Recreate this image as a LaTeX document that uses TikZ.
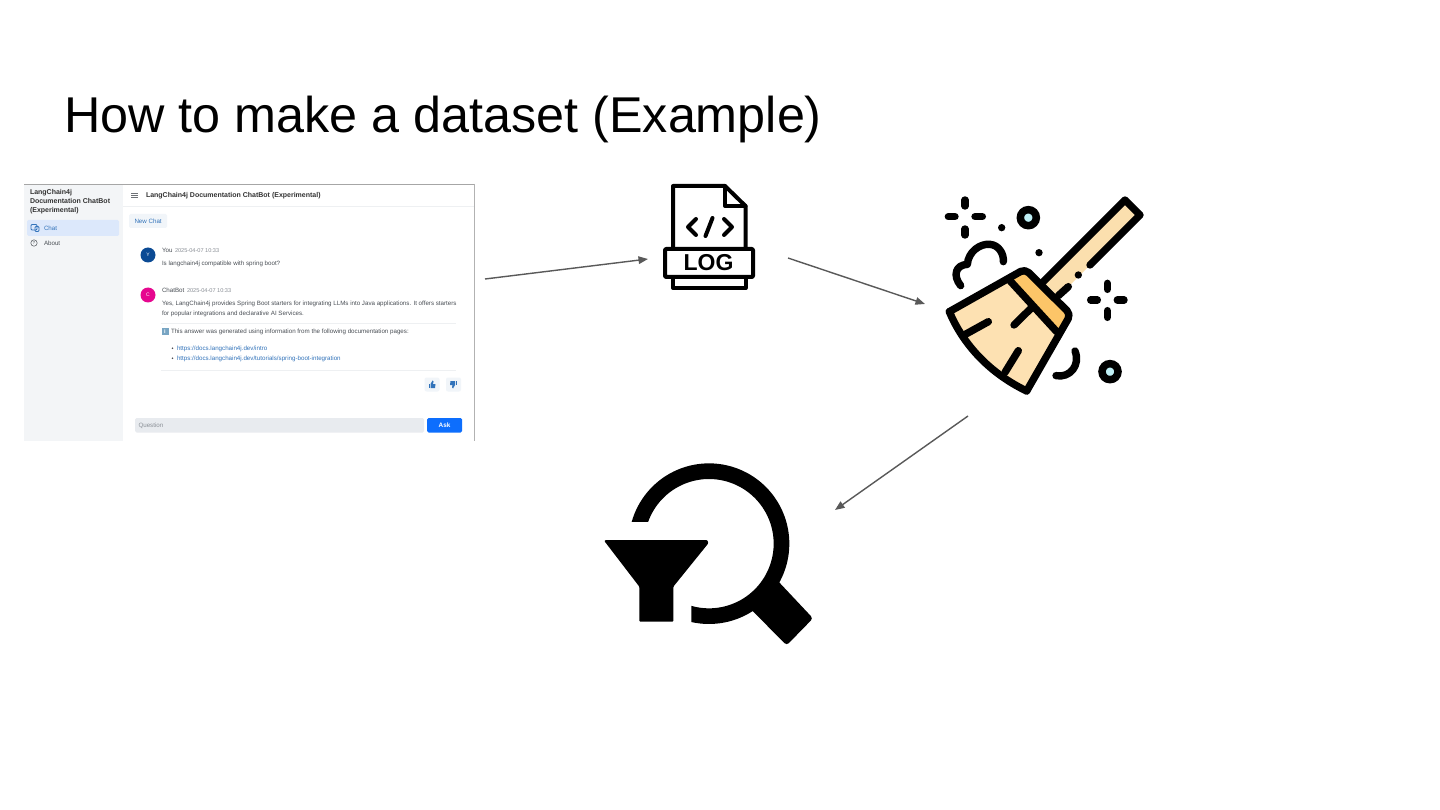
\documentclass[tikz,border=0pt]{standalone}
\usepackage{fontspec}
\setmainfont{Liberation Sans}
\usetikzlibrary{arrows.meta}
\definecolor{arrowgray}{HTML}{595959}
\definecolor{side}{HTML}{F3F5F7}
\definecolor{active}{HTML}{DCE8FB}
\definecolor{linkblue}{HTML}{3273BA}
\definecolor{ink}{HTML}{4A4F55}
\definecolor{faint}{HTML}{8A8F96}
\definecolor{hr}{HTML}{EEF0F2}
\definecolor{btn}{HTML}{F1F5F9}
\definecolor{wood}{HTML}{FBDFAE}
\definecolor{bristle}{HTML}{FDE1B2}
\definecolor{band}{HTML}{FCC568}
\definecolor{dust}{HTML}{BFEFF5}
\definecolor{infoblue}{HTML}{78A5C3}
\definecolor{avy}{HTML}{0B4A94}
\definecolor{avc}{HTML}{E6078F}
\definecolor{inputbg}{HTML}{E8EBEF}
\definecolor{askblue}{HTML}{0D6EFD}
\tikzset{
  x=1pt,y=-1pt,
  flow/.style={draw=arrowgray,line width=1.4pt,-{Triangle[length=9.5pt,width=7.5pt]}},
  ui/.style={anchor=base west,inner sep=0pt,outer sep=0pt,text=ink,font=\fontsize{6.2}{8}\selectfont},
  uibold/.style={ui,text=black!80,font=\fontsize{7}{8}\bfseries\selectfont},
  uilink/.style={ui,text=linkblue},
  uitime/.style={ui,text=faint,font=\fontsize{5.6}{7}\selectfont},
  rule/.style={draw=hr,line width=0.8pt},
  ik/.style={draw=black,line width=4pt,line cap=round,line join=round},
  bk/.style={draw=black,line width=7.4pt,line cap=round,line join=round},
  avatar/.style={circle,minimum size=15pt,inner sep=0pt,text=white,font=\fontsize{5}{6}\selectfont},
}
\begin{document}
\begin{tikzpicture}
\useasboundingbox (0,0) rectangle (1440,810);
\fill[white] (0,0) rectangle (1440,810);
% title
\node[anchor=base west,inner sep=0pt,font=\fontsize{50.3}{56}\selectfont] (title) at (64,133) {How to make a dataset (Example)};

% screenshot
\fill[white] (24,184) rectangle (475,441);
\fill[side] (24,184) rectangle (123,441);
\draw[gray!70,line width=0.8pt] (24,184.4) -- (475,184.4);
\draw[gray!60,line width=0.7pt] (474.6,184) -- (474.6,441);
\draw[rule] (123,206.5) -- (474,206.5);
\node[uibold] (s1) at (30,194.8) {LangChain4j};
\node[uibold] (s2) at (30,203.8) {Documentation ChatBot};
\node[uibold] (s3) at (30,212.8) {(Experimental)};
\fill[active,rounded corners=1.5pt] (27,220) rectangle (119,236);
\draw[linkblue,line width=0.8pt,rounded corners=1pt] (31,224.5) rectangle (37,230);
\draw[linkblue,line width=0.8pt,rounded corners=1pt] (35,226.5) rectangle (39,231.5);
\node[uilink] (chat) at (44,230.3) {Chat};
\draw[ink,line width=0.5pt] (34,243) circle (3.2);
\node[ui,anchor=center,font=\fontsize{4.5}{5}\selectfont] (abouticon) at (34,243) {?};
\node[ui] (about) at (44,245.3) {About};
\draw[ink!80,line width=0.8pt] (131,193) -- (138,193) (131,195.2) -- (138,195.2) (131,197.4) -- (138,197.4);
\node[uibold] (head) at (146,197.6) {LangChain4j Documentation ChatBot (Experimental)};
\fill[btn,rounded corners=1.5pt] (129,214) rectangle (167,228);
\node[uilink] (newchat) at (134.5,223.3) {New Chat};
\node[avatar,fill=avy] (ay) at (148,255) {Y};
\node[ui] (you) at (162,252.3) {You};
\node[uitime] (t1) at (175,252.5) {2025-04-07 10:33};
\node[ui] (q) at (162,265.5) {Is langchain4j compatible with spring boot?};
\node[avatar,fill=avc] (ac) at (148,295) {C};
\node[ui] (bot) at (162,292.3) {ChatBot};
\node[uitime] (t2) at (187,292.5) {2025-04-07 10:33};
\node[ui] (a1) at (162,305.7) {Yes, LangChain4j provides Spring Boot starters for integrating LLMs into Java applications. It offers starters};
\node[ui] (a2) at (162,315.7) {for popular integrations and declarative AI Services.};
\draw[rule] (161,323.5) -- (456,323.5);
\fill[infoblue] (161.5,328) rectangle (168.5,335);
\node[ui,text=white,font=\fontsize{5.5}{6}\bfseries\selectfont,anchor=center] (infoi) at (165,331.5) {i};
\node[ui] (a3) at (171,333.7) {This answer was generated using information from the following documentation pages:};
\fill[ink] (172.5,348.3) circle (0.9);
\fill[ink] (172.5,358.3) circle (0.9);
\node[uilink] (l1) at (177,350.5) {https://docs.langchain4j.dev/intro};
\node[uilink] (l2) at (177,360.5) {https://docs.langchain4j.dev/tutorials/spring-boot-integration};
\draw[rule] (161,370.5) -- (456,370.5);
\fill[btn,rounded corners=2pt] (424.5,377.5) rectangle (439.5,391.5);
\fill[btn,rounded corners=2pt] (446,377.5) rectangle (461,391.5);
\fill[linkblue] (428.5,384) rectangle (430,388);
\fill[linkblue] (430.5,388) -- (430.5,384) -- (432.5,380.5) -- (433.5,381.5) -- (433,384) -- (435.5,384) -- (435,388) -- cycle;
\fill[linkblue] (455.5,381) rectangle (457,385);
\fill[linkblue] (455,381) -- (455,385) -- (453,388.5) -- (452,387.5) -- (452.5,385) -- (450,385) -- (450.5,381) -- cycle;
\fill[inputbg,rounded corners=1.5pt] (135,418) rectangle (424,432.5);
\node[ui,text=faint] (qq) at (138.5,427.8) {Question};
\fill[askblue,rounded corners=1.5pt] (427,418) rectangle (462,432.5);
\node[ui,text=white,anchor=center,font=\fontsize{6.4}{8}\bfseries\selectfont] (ask) at (444.5,425.3) {Ask};

% log icon
\draw[ik,fill=white] (673,248) -- (673,186) -- (725,186) -- (745.5,206) -- (745.5,248);
\draw[ik] (725,186) -- (725,206) -- (745.5,206);
\draw[ik,fill=white] (673,277) -- (673,288) -- (745.5,288) -- (745.5,277);
\draw[ik,fill=white,rounded corners=1pt] (665,249) rectangle (753,277);
\draw[ik] (696,219) -- (688,227) -- (696,235);
\draw[ik] (724,219) -- (732,227) -- (724,235);
\draw[ik] (712.5,218) -- (705.5,236);
\node[inner sep=0pt,font=\fontsize{23}{24}\bfseries\selectfont] (logtxt) at (708.5,263) {LOG};

% broom icon
\begin{scope}[shift={(930,185)},x=0.33333pt,y=-0.33333pt]
  \fill[wood] (340,290) -- (585,45) -- (630,90) -- (385,335) -- cycle;
  \draw[bk] (340,290) -- (585,45) -- (630,90) -- (480,240);
  \fill[black] (445,270) circle (11);
  \draw[bk] (415,305) -- (385,332);
  \path[fill=bristle] (58,380) -- (240,285) -- (380,440) -- (290,618) .. controls (180,565) and (100,480) .. (58,380) -- cycle;
  \path[fill=band] (240,285) -- (285,255) -- (420,390) -- (380,440) -- cycle;
  \draw[bk,rounded corners=5pt] (58,380) -- (285,252) -- (422,388) -- (290,618);
  \draw[bk] (290,618) .. controls (180,565) and (100,480) .. (58,380);
  \draw[bk] (238,285) -- (380,440);
  \draw[bk] (108,447) -- (175,410);
  \draw[bk] (252,420) -- (303,370);
  \draw[bk] (225,562) -- (265,497);
  \draw[bk] (105,45) -- (105,63) (105,132) -- (105,150) (55,95) -- (75,95) (135,95) -- (157,95);
  \draw[bk] (532,295) -- (532,313) (532,377) -- (532,397) (482,345) -- (502,345) (562,345) -- (582,345);
  \draw[black,line width=7.5pt,fill=dust] (295,98) circle (24);
  \draw[black,line width=7.5pt,fill=dust] (540,560) circle (24);
  \fill[black] (215,128) circle (11);
  \fill[black] (327,203) circle (11);
  \draw[bk] (92,302) .. controls (68,272) and (76,240) .. (112,238) .. controls (115,200) and (150,175) .. (180,178) .. controls (205,180) and (222,205) .. (220,230);
  \draw[bk] (435,498) .. controls (452,540) and (420,580) .. (378,572);
\end{scope}

% filter icon
\begin{scope}[shift={(595,455)},x=0.33333pt,y=-0.33333pt]
  \fill[black] plot[domain=-164.2:102.7,samples=90] ({342+241*cos(\x)},{266+241*sin(\x)}) -- plot[domain=105.9:-160.4,samples=90] ({342+194*cos(\x)},{266+194*sin(\x)}) -- cycle;
  \fill[black,rounded corners=3pt] (530,358) -- (654,490) -- (575,571) -- (455,450) -- cycle;
  \fill[black,rounded corners=1pt] (28,258) -- (31,255) -- (337,255) -- (340,265) -- (235,395) -- (235,500) -- (133,500) -- (133,395) -- cycle;
\end{scope}

% connectors
\coordinate (e1a) at (485,279);
\coordinate (e1b) at (648,259);
\coordinate (e2a) at (788,258);
\coordinate (e2b) at (925,304);
\coordinate (e3a) at (968,416);
\coordinate (e3b) at (835,510);
\draw[flow] (e1a) -- (e1b);
\draw[flow] (e2a) -- (e2b);
\draw[flow] (e3a) -- (e3b);
\end{tikzpicture}
\end{document}
